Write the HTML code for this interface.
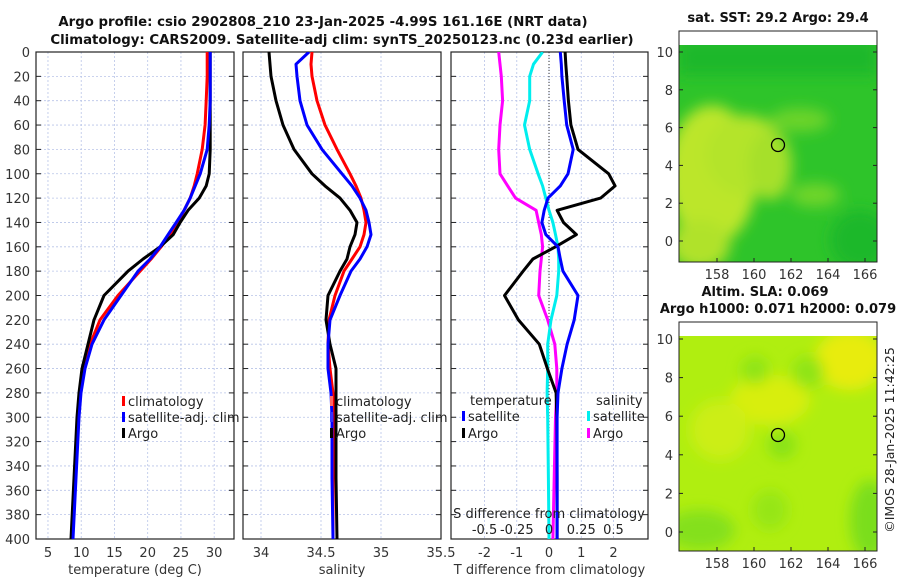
<!DOCTYPE html>
<html><head><meta charset="utf-8"><style>
body{margin:0;background:#fff;}
svg{display:block;font-family:"DejaVu Sans","Liberation Sans",sans-serif;}
</style></head><body>
<svg id="c" width="900" height="580" viewBox="0 0 900 580">
<defs>
<filter id="bl" x="-50%" y="-50%" width="200%" height="200%"><feGaussianBlur stdDeviation="7"/></filter>
<clipPath id="cm1"><rect x="679" y="45" width="198" height="217"/></clipPath>
<clipPath id="cm2"><rect x="679" y="336" width="198" height="215"/></clipPath>
<clipPath id="cp0"><rect x="36" y="52" width="198" height="487"/></clipPath>
<clipPath id="cp1"><rect x="243" y="52" width="198" height="487"/></clipPath>
<clipPath id="cp2"><rect x="451" y="52" width="197" height="487"/></clipPath>
</defs>
<text x="323" y="26" text-anchor="middle" font-size="13.3" font-weight="bold" fill="#111">Argo profile: csio 2902808_210 23-Jan-2025 -4.99S 161.16E (NRT data)</text>
<text x="342" y="44" text-anchor="middle" font-size="13.3" font-weight="bold" fill="#111">Climatology: CARS2009. Satellite-adj clim: synTS_20250123.nc (0.23d earlier)</text>

<g>
<text x="778" y="22" text-anchor="middle" font-size="13" font-weight="bold" fill="#111">sat. SST: 29.2 Argo: 29.4</text>
<rect x="679" y="31" width="198" height="231" fill="#fff" stroke="#222"/>
<g clip-path="url(#cm1)">
<rect x="679" y="45" width="198" height="217" fill="#2ec42a"/>
<g filter="url(#bl)">
<ellipse cx="712" cy="175" rx="45" ry="70" fill="#bce62a"/>
<ellipse cx="745" cy="155" rx="40" ry="40" fill="#b4e42c"/>
<ellipse cx="770" cy="165" rx="22" ry="35" fill="#a6e02c"/>
<ellipse cx="700" cy="245" rx="30" ry="25" fill="#b0e22a"/>
<ellipse cx="800" cy="120" rx="30" ry="12" fill="#6cd42a"/>
<ellipse cx="815" cy="195" rx="25" ry="12" fill="#70d52a"/>
<rect x="679" y="40" width="198" height="35" fill="#1eb82a"/>
<ellipse cx="860" cy="240" rx="30" ry="30" fill="#1eb82a"/>
</g>
</g>
<rect x="679" y="31" width="198" height="231" fill="none" stroke="#222"/>
<circle cx="778" cy="145" r="6.5" fill="none" stroke="#000" stroke-width="1.3"/>
</g>
<g>
<text x="765" y="296" text-anchor="middle" font-size="13" font-weight="bold" fill="#111">Altim. SLA: 0.069</text>
<text x="778" y="313" text-anchor="middle" font-size="13" font-weight="bold" fill="#111">Argo h1000: 0.071 h2000: 0.079</text>
<rect x="679" y="322" width="198" height="229" fill="#fff" stroke="#222"/>
<g clip-path="url(#cm2)">
<rect x="679" y="336" width="198" height="215" fill="#b0ee10"/>
<g filter="url(#bl)">
<ellipse cx="850" cy="360" rx="35" ry="30" fill="#e8ec10"/>
<ellipse cx="770" cy="400" rx="40" ry="25" fill="#d8ee10"/>
<ellipse cx="720" cy="430" rx="30" ry="30" fill="#ccee12"/>
<ellipse cx="755" cy="370" rx="14" ry="14" fill="#8ee418"/>
<ellipse cx="808" cy="372" rx="16" ry="16" fill="#8ee418"/>
<ellipse cx="782" cy="445" rx="14" ry="14" fill="#88e218"/>
<ellipse cx="700" cy="530" rx="35" ry="20" fill="#84e01a"/>
<ellipse cx="870" cy="520" rx="20" ry="40" fill="#7ade1a"/>
<ellipse cx="770" cy="510" rx="18" ry="20" fill="#96e616"/>
</g>
</g>
<rect x="679" y="322" width="198" height="229" fill="none" stroke="#222"/>
<circle cx="778" cy="435" r="6.5" fill="none" stroke="#000" stroke-width="1.3"/>
</g>
<text transform="translate(894,440) rotate(-90)" text-anchor="middle" font-size="12.5" fill="#222">©IMOS 28-Jan-2025 11:42:25</text>
<g id="plots"></g>
</svg>
<script>
// ---- data ----
const depths = [0,10,20,40,60,80,100,110,120,130,140,150,160,170,180,200,220,240,260,280,300,350,400];
const tempClim = [28.95,28.95,28.95,28.8,28.64,28.19,27.44,26.99,26.39,25.48,24.58,23.37,22.02,20.51,18.86,15.54,12.83,11.33,10.42,9.82,9.52,9.07,8.61];
const tempSat = [29.4,29.4,29.4,29.4,29.25,28.95,27.89,27.14,26.39,25.48,24.28,23.07,21.87,20.36,18.55,15.99,13.43,11.63,10.57,9.97,9.67,9.22,8.77];
const tempArgo = [29.4,29.4,29.4,29.4,29.4,29.4,29.25,28.8,27.74,26.08,24.88,23.83,21.87,19.31,17.05,13.43,11.93,11.02,10.12,9.67,9.37,8.92,8.46];
const salClim = [34.425,34.417,34.425,34.467,34.533,34.633,34.742,34.792,34.833,34.858,34.875,34.858,34.825,34.758,34.692,34.617,34.567,34.558,34.575,34.6,34.6,34.6,34.6];
const salSat = [34.4,34.292,34.3,34.325,34.383,34.508,34.675,34.758,34.825,34.875,34.9,34.917,34.883,34.825,34.75,34.658,34.575,34.558,34.558,34.583,34.592,34.592,34.6];
const salArgo = [34.067,34.075,34.083,34.125,34.183,34.275,34.425,34.533,34.658,34.742,34.8,34.783,34.742,34.717,34.658,34.558,34.542,34.575,34.625,34.625,34.625,34.625,34.633];
const dTSat = [0.35,0.38,0.4,0.47,0.55,0.75,0.59,0.35,-0.03,-0.15,-0.22,-0.1,0.28,0.35,0.43,0.9,0.78,0.56,0.4,0.28,0.25,0.25,0.25];
const dTArgo = [0.5,0.52,0.55,0.6,0.68,0.9,1.85,2.05,1.6,0.25,0.45,0.85,0.2,-0.5,-0.8,-1.38,-0.95,-0.3,-0.05,0.22,0.24,0.25,0.25];
const dSSat = [-0.05,-0.12,-0.15,-0.15,-0.19,-0.15,-0.085,-0.05,-0.025,0,0.03,0.05,0.07,0.075,0.075,0.06,0.015,-0.01,-0.01,-0.015,-0.01,-0.005,0];
const dSArgo = [-0.39,-0.38,-0.37,-0.36,-0.38,-0.39,-0.38,-0.32,-0.26,-0.1,-0.08,-0.06,-0.05,-0.06,-0.07,-0.08,-0.01,0.045,0.06,0.06,0.05,0.04,0.03];
const depthTicks = [0,20,40,60,80,100,120,140,160,180,200,220,240,260,280,300,320,340,360,380,400];
const tempTicks = [5,10,15,20,25,30];
const salTicks = [34,34.5,35,35.5];
const dTTicks = [-2,-1,0,1,2];
const dSTicks = [-0.5,-0.25,0,0.25,0.5];
const latTicks = [0,2,4,6,8,10];
const lonTicks = [158,160,162,164,166];

const NS='http://www.w3.org/2000/svg';
const root=document.getElementById('plots');
function mk(tag,at,parent){const e=document.createElementNS(NS,tag);for(const k in at)e.setAttribute(k,at[k]);(parent||root).appendChild(e);return e;}
const y=d=>52+d*(487/400);
const panels=[
 {x0:36,x1:234,lo:3.2,hi:32.98,ticks:tempTicks,label:'temperature (deg C)',clip:'cp0'},
 {x0:243,x1:441,lo:33.85,hi:35.5,ticks:salTicks,label:'salinity',clip:'cp1'},
 {x0:451,x1:648,lo:-3.04,hi:3.07,ticks:dTTicks,label:'T difference from climatology',clip:'cp2'}
];
panels.forEach((p,i)=>{
 p.sx=v=>p.x0+(v-p.lo)/(p.hi-p.lo)*(p.x1-p.x0);
 const g=mk('g',{});
 
 
 depthTicks.forEach(d=>{const l=mk('line',{x1:p.x0,x2:p.x1,y1:y(d),y2:y(d),stroke:'#b8c4e8','stroke-dasharray':'2,2','stroke-width':0.8},g);
  
  mk('line',{x1:p.x0,x2:p.x0+5,y1:y(d),y2:y(d),stroke:'#222'},g);mk('line',{x1:p.x1,x2:p.x1-5,y1:y(d),y2:y(d),stroke:'#222'},g);});
 p.ticks.forEach(t=>{const X=p.sx(t);if(X<p.x0-1)return;
  const l=mk('line',{x1:X,x2:X,y1:52,y2:539,stroke:'#b8c4e8','stroke-dasharray':'2,2','stroke-width':0.8},g);
  });
 mk('rect',{x:p.x0,y:52,width:p.x1-p.x0,height:487,fill:'none',stroke:'#222','stroke-width':1.2},g);
 p.ticks.forEach(t=>{const X=p.sx(t);
  const tx=mk('text',{x:X,y:557,'text-anchor':'middle','font-size':13,fill:'#333'},g);tx.textContent=String(t);
  });
 const xl=mk('text',{x:(p.x0+p.x1)/2,y:574,'text-anchor':'middle','font-size':13,fill:'#333'},g);xl.textContent=p.label;
 
 p.g=g;
});
depthTicks.forEach(d=>{const t=mk('text',{x:30,y:y(d)+5,'text-anchor':'end','font-size':13,fill:'#333'});t.textContent=d;
 });
function line(p,vals,col,name,sx){
 const f=sx||p.sx;
 const pts=vals.map((v,i)=>f(v).toFixed(1)+','+y(depths[i]).toFixed(1)).join(' ');
 const e=mk('polyline',{points:pts,fill:'none',stroke:col,'stroke-width':3,'stroke-linejoin':'round','clip-path':'url(#'+p.clip+')'},p.g);
 
 
}
const P=panels;
line(P[0],tempClim,'#f00','temp-climatology-line');
line(P[0],tempArgo,'#000','temp-argo-line');
line(P[0],tempSat,'#00f','temp-satellite-line');
line(P[1],salClim,'#f00','sal-climatology-line');
line(P[1],salArgo,'#000','sal-argo-line');
line(P[1],salSat,'#00f','sal-satellite-line');
const z=mk('line',{x1:P[2].sx(0),x2:P[2].sx(0),y1:52,y2:539,stroke:'#333','stroke-dasharray':'1,2'},P[2].g);

const sxS=v=>P[2].sx(v*4);
line(P[2],dSArgo,'#f0f','s-diff-argo-line',sxS);
line(P[2],dSSat,'#0ee','s-diff-satellite-line',sxS);
line(P[2],dTArgo,'#000','t-diff-argo-line');
line(P[2],dTSat,'#00f','t-diff-satellite-line');
const st=mk('text',{x:549,y:518,'text-anchor':'middle','font-size':13,fill:'#222'},P[2].g);st.textContent='S difference from climatology';

dSTicks.forEach(t=>{const e=mk('text',{x:sxS(t),y:534,'text-anchor':'middle','font-size':13,fill:'#222'},P[2].g);
 e.textContent=t===0?'0':(t<0?'-':'')+String(Math.abs(t));
 });
function leg(x,yy,col,txt,name){
 const r=mk('rect',{x:x,y:yy-10,width:3,height:10,fill:col});
 
 const t=mk('text',{x:x+6,y:yy,'font-size':13,fill:'#222'});t.textContent=txt;
 
}
leg(122,406,'#f00','climatology','legend-temp-climatology');
leg(122,422,'#00f','satellite-adj. clim','legend-temp-satellite');
leg(122,438,'#000','Argo','legend-temp-argo');
leg(330,406,'#f66','climatology','legend-sal-climatology');
leg(330,422,'#33f','satellite-adj. clim','legend-sal-satellite');
leg(330,438,'#000','Argo','legend-sal-argo');
const tl=mk('text',{x:470,y:405,'font-size':13,fill:'#222'});tl.textContent='temperature';

const sl=mk('text',{x:596,y:405,'font-size':13,fill:'#222'});sl.textContent='salinity';

leg(462,421,'#00f','satellite','legend-tdiff-satellite');
leg(462,438,'#000','Argo','legend-tdiff-argo');
leg(587,421,'#0ee','satellite','legend-sdiff-satellite');
leg(587,438,'#f0f','Argo','legend-sdiff-argo');
function mapAxes(lat10,lat0,bottom,name){
 const ly=l=>lat0+(lat10-lat0)*l/10;
 latTicks.forEach(l=>{const t=mk('text',{x:673,y:ly(l)+5,'text-anchor':'end','font-size':13,fill:'#333'});t.textContent=l;
  
  mk('line',{x1:679,x2:683,y1:ly(l),y2:ly(l),stroke:'#222'});mk('line',{x1:877,x2:873,y1:ly(l),y2:ly(l),stroke:'#222'});});
 lonTicks.forEach(l=>{const X=717+(l-158)*18.5;const t=mk('text',{x:X,y:bottom+17,'text-anchor':'middle','font-size':13,fill:'#333'});t.textContent=l;
  
  mk('line',{x1:X,x2:X,y1:bottom,y2:bottom-4,stroke:'#222'});});
}
mapAxes(52,241,262,'sst-map');
mapAxes(339,532,551,'sla-map');
</script>
</body></html>
